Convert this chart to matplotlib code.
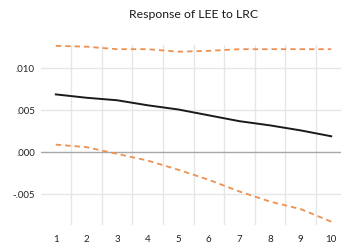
import matplotlib
matplotlib.use("Agg")
import matplotlib.pyplot as plt
import numpy as np

periods = [1, 2, 3, 4, 5, 6, 7, 8, 9, 10]
response = [0.0069, 0.0065, 0.0062, 0.0056, 0.0051, 0.0044, 0.0037, 0.0032, 0.0026, 0.0019]
upper = [0.0127, 0.0126, 0.0123, 0.0123, 0.0120, 0.0121, 0.0123, 0.0123, 0.0123, 0.0123]
lower = [0.0009, 0.0006, -0.0002, -0.0010, -0.0021, -0.0033, -0.0047, -0.0059, -0.0068, -0.0083]
yticks = [-0.005, 0.0, 0.005, 0.010]
ytick_labels = ["-.005", ".000", ".005", ".010"]
title = "Response of LEE to LRC"

W, H = 341, 244
fig = plt.figure(figsize=(W / 100, H / 100), dpi=100)
left, right, top, bottom = 40.5, 346.5, 45, 225
ax = fig.add_axes([left / W, (H - bottom) / H, (right - left) / W, (bottom - top) / H])

font = "Lato"
ax.plot(periods, upper, color="#EE9150", lw=1.3, ls=(0, (3, 2.2)), zorder=3)
ax.plot(periods, lower, color="#EE9150", lw=1.3, ls=(0, (3, 2.2)), zorder=3)
ax.plot(periods, response, color="#1a1a1a", lw=1.4, zorder=4)

ax.set_xlim(0.5, 10.5)
ax.set_ylim(-0.0087, 0.0128)

for i in range(1, 10):
    ax.axvline(i + 0.5, color="#e6e6e6", lw=1.0, zorder=1)
for y in yticks:
    ax.axhline(y, color="#a8a8a8" if y == 0 else "#e6e6e6", lw=1.0, zorder=1,
               xmin=-0.005, xmax=1)

for s in ax.spines.values():
    s.set_visible(False)
ax.set_xticks(periods)
ax.set_xticklabels([str(p) for p in periods], fontsize=7, fontfamily=font, color="#222222")
ax.set_yticks(yticks)
ax.set_yticklabels(ytick_labels, fontsize=7, fontfamily=font, color="#222222")
ax.tick_params(length=0, pad=4)
ax.tick_params(axis="x", pad=7)

fig.text(194 / W, 1 - 14 / H, title, ha="center", va="center", fontsize=8.8,
         fontfamily=font, color="#1a1a1a")

fig.savefig("out.png", dpi=100)
